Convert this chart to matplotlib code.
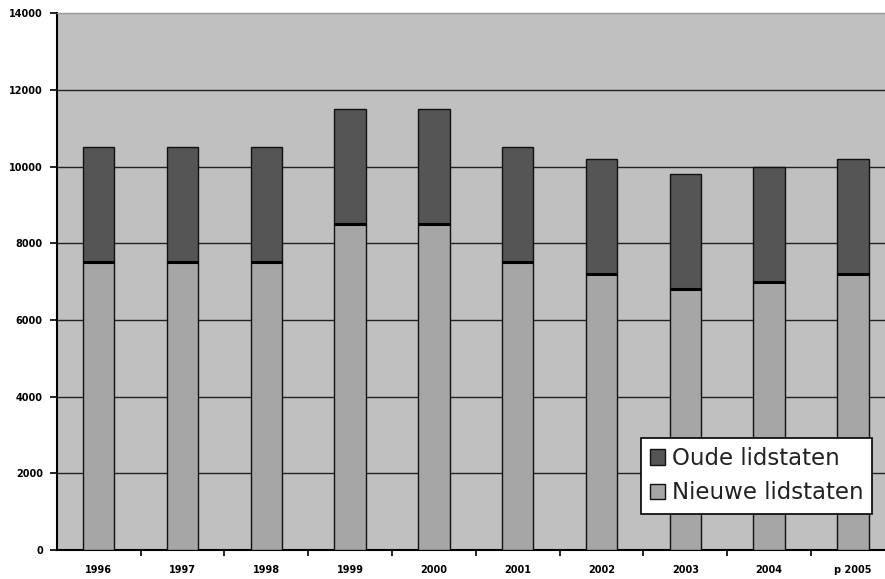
import numpy as np
import matplotlib
matplotlib.use("Agg")
import matplotlib.pyplot as plt

# jaren en aantallen per groep lidstaten
jaren = ["1996", "1997", "1998", "1999", "2000", "2001", "2002", "2003", "2004", "p 2005"]
nieuwe = [7500, 7500, 7500, 8500, 8500, 7500, 7200, 6800, 7000, 7200]
totaal = [10500, 10500, 10500, 11500, 11500, 10500, 10200, 9800, 10000, 10200]
oude = [t - n for t, n in zip(totaal, nieuwe)]
y_ticks = [0, 2000, 4000, 6000, 8000, 10000, 12000, 14000]

fig = plt.figure(figsize=(8.85, 5.79), dpi=100)
fig.patch.set_facecolor("white")
ax = fig.add_axes([0.0641, 0.0501, 0.947, 0.927])
ax.set_facecolor("#c0c0c0")

x = np.arange(len(jaren))
w = 0.375
ax.bar(x, nieuwe, w, color="#a6a6a6", edgecolor="#111111", linewidth=1.0,
       label="Nieuwe lidstaten", zorder=3)
ax.bar(x, oude, w, bottom=nieuwe, color="#555555", edgecolor="#111111",
       linewidth=1.0, label="Oude lidstaten", zorder=3)
# dikke scheidingslijn tussen de twee delen
ax.hlines(nieuwe, x - w / 2, x + w / 2, color="black", linewidth=2.2, zorder=4)

ax.set_xlim(-0.5, 9.5)
ax.set_ylim(0, 14000)

for v in y_ticks[1:-1]:
    ax.axhline(v, color="#222222", linewidth=1.0, zorder=1)

ax.set_yticks(y_ticks)
ax.set_yticklabels([str(v) for v in y_ticks], fontsize=7, fontweight="bold")
ax.set_xticks(x)
ax.set_xticklabels(jaren, fontsize=7, fontweight="bold")
ax.set_xticks(np.arange(0.5, 9.5, 1.0), minor=True)
ax.tick_params(axis="x", which="major", length=0, pad=11)
ax.tick_params(axis="x", which="minor", length=4, width=1.2, direction="out")
ax.tick_params(axis="y", length=5, width=1.2, direction="out", pad=5)

for s in ["left", "bottom"]:
    ax.spines[s].set_color("black")
    ax.spines[s].set_linewidth(1.5)
ax.spines["top"].set_color("#999999")
ax.spines["top"].set_linewidth(1.0)
ax.spines["right"].set_visible(False)

handles, labels = ax.get_legend_handles_labels()
leg = fig.legend(handles[::-1], labels[::-1], loc="lower left",
                 bbox_to_anchor=(0.724, 0.113), frameon=True, fancybox=False,
                 fontsize=16.5, handlelength=0.65, handleheight=0.65,
                 handletextpad=0.3, borderpad=0.4, labelspacing=0.5,
                 borderaxespad=0)
leg.get_frame().set_edgecolor("black")
leg.get_frame().set_linewidth(1.2)
leg.get_frame().set_facecolor("white")
leg.get_frame().set_alpha(1)
for txt in leg.get_texts():
    txt.set_color("#222222")

fig.savefig("out.png", dpi=100)
